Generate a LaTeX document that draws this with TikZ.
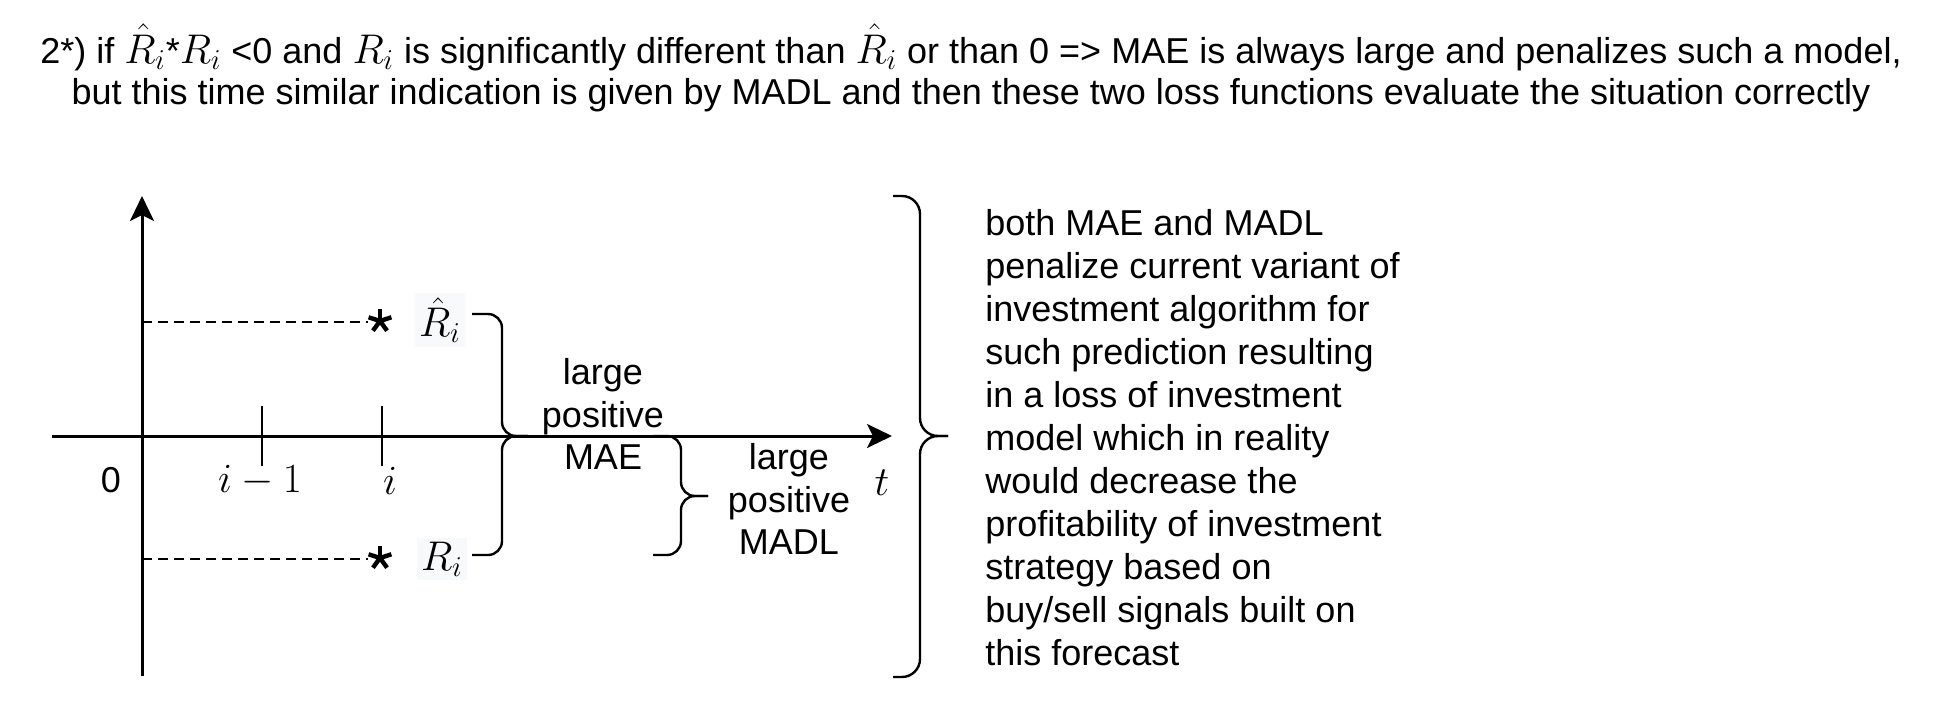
\documentclass[tikz,border=0pt]{standalone}
\usepackage[no-math]{fontspec}
\setmainfont{Liberation Sans}
\usetikzlibrary{arrows.meta}
\definecolor{lblbg}{RGB}{248,249,250}
\newcommand{\mth}[1]{{\fontsize{22.5}{22.5}\selectfont$#1$}}
\tikzset{
  axisline/.style={line width=1.5pt,-{Stealth[length=12.5pt,width=12pt,inset=3pt]}},
  tickline/.style={line width=1.3pt},
  dashline/.style={line width=1.1pt,dash pattern=on 5pt off 3pt},
  curly/.style={line width=1.2pt,rounded corners=7pt},
  starline/.style={line width=2.2pt},
  txt/.style={font=\fontsize{18}{21.25}\selectfont,inner sep=0pt,align=center},
  para/.style={font=\fontsize{18}{21.5}\selectfont,inner sep=0pt,align=left},
  mathlbl/.style={fill=lblbg,inner sep=2pt},
}
\begin{document}
\begin{tikzpicture}[x=0.5pt,y=-0.5pt]
\fill[white] (0,0) rectangle (1944,702);
\useasboundingbox (0,0) rectangle (1944,702);

% title
\node[txt,font=\fontsize{18}{20.5}\selectfont] (title) at (971,68) {2*) if \mth{\hat{R}_i}*\mth{R_i} <0 and \mth{R_i} is significantly different than \mth{\hat{R}_i} or than 0 => MAE is always large and penalizes such a model,\\but this time similar indication is given by MADL and then these two loss functions evaluate the situation correctly};

% axes
\coordinate (xs) at (52,436);
\coordinate (xe) at (892,436);
\coordinate (ys) at (142,676);
\coordinate (ye) at (142,196);
\draw[axisline] (xs) -- (xe);
\draw[axisline] (ys) -- (ye);

% ticks
\coordinate (t1a) at (262,406); \coordinate (t1b) at (262,466);
\coordinate (t2a) at (382,406); \coordinate (t2b) at (382,466);
\draw[tickline] (t1a) -- (t1b);
\draw[tickline] (t2a) -- (t2b);

% axis labels
\node[txt] (zero) at (111,480) {0};
\node[inner sep=0pt] (lim1) at (260,481) {\mth{i-1}};
\node[inner sep=0pt] (li) at (390,481) {\mth{i}};
\node[inner sep=0pt] (lt) at (882,483) {\mth{t}};

% points
\coordinate (s1) at (380,321);
\coordinate (s2) at (380,558);
\foreach \a in {90,18,162,234,306} {
  \draw[starline] (s1) -- ++(\a:6pt);
  \draw[starline] (s2) -- ++(\a:6pt);
}
\coordinate (d1) at (142,322);
\coordinate (d2) at (142,559);
\draw[dashline] (d1) -- ([xshift=-6pt]s1 |- d1);
\draw[dashline] (d2) -- ([xshift=-6pt]s2 |- d2);

\node[mathlbl] (rhat) at (440,320) {\mth{\hat{R}_i}};
\node[mathlbl] (r) at (442,559) {\mth{R_i}};

% brace 1 (MAE)
\coordinate (b1t) at (472,314);
\coordinate (b1b) at (472,555);
\coordinate (b1m) at (528,436);
\draw[curly] (b1t) -- (502,314) -- (502,436) -- (b1m);
\draw[curly] (b1b) -- (502,555) -- (502,436) -- (b1m);
\node[txt] (mae) at (603,414) {large\\positive\\MAE};

% brace 2 (MADL)
\coordinate (b2t) at (653,436);
\coordinate (b2b) at (653,555);
\coordinate (b2m) at (708,496);
\draw[curly] (b2t) -- (681,436) -- (681,496) -- (b2m);
\draw[curly] (b2b) -- (681,555) -- (681,496) -- (b2m);
\node[txt] (madl) at (789,499) {large\\positive\\MADL};

% brace 3
\coordinate (b3t) at (893,196);
\coordinate (b3b) at (893,677);
\coordinate (b3m) at (948,436);
\draw[curly,rounded corners=9pt] (b3t) -- (920,196) -- (920,436) -- (b3m);
\draw[curly,rounded corners=9pt] (b3b) -- (920,677) -- (920,436) -- (b3m);

\node[para,anchor=west] (expl) at (985,438) {both MAE and MADL\\penalize current variant of\\investment algorithm for\\such prediction resulting\\in a loss of investment\\model which in reality\\would decrease the\\profitability of investment\\strategy based on\\buy/sell signals built on\\this forecast};
\end{tikzpicture}
\end{document}
